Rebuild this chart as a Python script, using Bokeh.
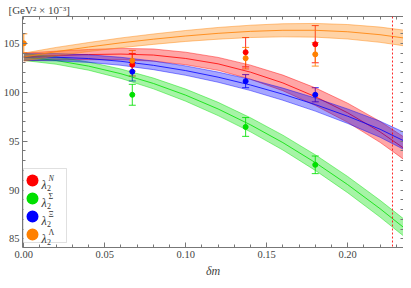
from bokeh.plotting import figure
from bokeh.models import (Range1d, LinearAxis, Whisker, TeeHead, ColumnDataSource, Span,
                          Label, BoxAnnotation, FixedTicker, NumeralTickFormatter)
from bokeh.embed import file_html
from bokeh.resources import INLINE

# ---------------- data ----------------
dm_grid = [0.0, 0.02, 0.04, 0.06, 0.08, 0.10, 0.12, 0.14, 0.16, 0.18, 0.20, 0.22, 0.2345]

red_fit = [103.6, 103.75, 103.85, 103.9, 103.8, 103.45, 102.9, 102.05, 100.95, 99.55, 97.9, 95.95, 94.3]
red_hw = [0.4, 0.45, 0.52, 0.58, 0.62, 0.64, 0.66, 0.72, 0.8, 0.9, 0.98, 1.07, 1.15]

blue_fit = [103.6, 103.58, 103.44, 103.16, 102.75, 102.21, 101.54, 100.74, 99.8, 98.74, 97.55, 96.22, 95.05]
blue_hw = [0.35, 0.37, 0.39, 0.41, 0.44, 0.48, 0.52, 0.57, 0.62, 0.67, 0.74, 0.82, 0.88]

green_fit = [103.6, 103.24, 102.67, 101.89, 100.9, 99.7, 98.29, 96.67, 94.85, 92.81, 90.56, 88.1, 86.19]
green_hw = [0.35, 0.38, 0.42, 0.48, 0.55, 0.62, 0.68, 0.72, 0.76, 0.8, 0.83, 0.86, 0.88]

orange_fit = [103.6, 104.15, 104.62, 105.05, 105.42, 105.75, 106.02, 106.22, 106.33, 106.33, 106.18, 105.88, 105.55]
orange_hw = [0.4, 0.43, 0.46, 0.5, 0.53, 0.56, 0.6, 0.63, 0.67, 0.7, 0.74, 0.78, 0.8]

dm_pts = [0.067, 0.137, 0.180]
red_val = [102.81, 104.09, 104.91]
red_err = [1.15, 1.5, 1.9]
blue_val = [102.1, 101.13, 99.74]
blue_err = [0.95, 0.67, 0.72]
green_val = [99.74, 96.45, 92.58]
green_err = [1.07, 0.96, 0.9]
orange_dm = [0.0, 0.067, 0.137, 0.180]
orange_val = [105.0, 103.22, 103.48, 103.87]
orange_err = [0.97, 1.05, 1.1, 1.2]

dm_phys = 0.2277

x_ticks = [0.0, 0.05, 0.10, 0.15, 0.20]
y_ticks = [85, 90, 95, 100, 105]

series = [
    ("N", "#ff0000", red_fit, red_hw, dm_pts, red_val, red_err),
    ("Σ", "#00e000", green_fit, green_hw, dm_pts, green_val, green_err),
    ("Ξ", "#0000ff", blue_fit, blue_hw, dm_pts, blue_val, blue_err),
    ("Λ", "#ff8000", orange_fit, orange_hw, orange_dm, orange_val, orange_err),
]

FONT = "Liberation Serif"
AX = "#777777"
LAB = "#444444"

p = figure(width=403, height=280, output_backend="svg", toolbar_location=None,
           x_range=Range1d(-0.0008, 0.2345), y_range=Range1d(84.13, 107.74),
           min_border_left=0, min_border_right=0, min_border_top=0, min_border_bottom=0)
p.grid.visible = False
p.outline_line_color = None
p.background_fill_color = "white"

p.title.text = "[GeV² × 10⁻³]"
p.title.text_font = FONT
p.title.text_font_style = "normal"
p.title.text_font_size = "11px"
p.title.text_color = LAB
p.title.align = "left"
p.title.offset = -14
p.title.standoff = 2

x_minor = [i / 100 for i in range(0, 24)]
y_minor = list(range(84, 108))


def style_axis(ax, ticks, minor, labels=True):
    ax.ticker = FixedTicker(ticks=ticks, minor_ticks=minor)
    ax.axis_line_color = AX
    ax.major_tick_line_color = AX
    ax.minor_tick_line_color = AX
    ax.major_tick_in = 5
    ax.major_tick_out = 0
    ax.minor_tick_in = 3
    ax.minor_tick_out = 0
    if labels:
        ax.major_label_text_font = FONT
        ax.major_label_text_font_size = "10.5px"
        ax.major_label_text_color = LAB
        ax.major_label_standoff = 3
    else:
        ax.major_label_text_font_size = "0px"
        ax.major_label_standoff = 0
        ax.axis_label_standoff = 0


style_axis(p.xaxis[0], x_ticks, x_minor)
style_axis(p.yaxis[0], y_ticks, y_minor)
p.xaxis[0].formatter = NumeralTickFormatter(format="0.00")
p.xaxis[0].axis_label = "δm"
p.xaxis[0].axis_label_text_font = FONT
p.xaxis[0].axis_label_text_font_style = "italic"
p.xaxis[0].axis_label_text_font_size = "12px"
p.xaxis[0].axis_label_text_color = LAB
p.xaxis[0].axis_label_standoff = 3

# frame axes on top and right: tick marks only, no labels
top_ax = LinearAxis()
right_ax = LinearAxis()
style_axis(top_ax, [], x_minor, labels=False)
style_axis(right_ax, [], y_minor, labels=False)
p.add_layout(top_ax, "above")
p.add_layout(right_ax, "right")

# bands
for name, col, fit, hw, *_ in series:
    up = [f + h for f, h in zip(fit, hw)]
    lo = [f - h for f, h in zip(fit, hw)]
    p.varea(x=dm_grid, y1=lo, y2=up, fill_color=col, fill_alpha=0.35)
    p.line(dm_grid, up, line_color=col, line_alpha=0.55, line_width=0.8)
    p.line(dm_grid, lo, line_color=col, line_alpha=0.55, line_width=0.8)
    p.line(dm_grid, fit, line_color=col, line_alpha=0.8, line_width=1)

p.add_layout(Span(location=dm_phys, dimension="height", line_color="#ff0000",
                  line_dash="2 2", line_width=1, line_alpha=0.85))

# error bars and points
for name, col, fit, hw, xs, vals, errs in series:
    src = ColumnDataSource(dict(x=xs, y=vals,
                                upper=[v + e for v, e in zip(vals, errs)],
                                lower=[v - e for v, e in zip(vals, errs)]))
    p.add_layout(Whisker(source=src, base="x", upper="upper", lower="lower",
                         line_color=col, line_width=1, line_alpha=0.85,
                         upper_head=TeeHead(size=7, line_color=col, line_width=1, line_alpha=0.85),
                         lower_head=TeeHead(size=7, line_color=col, line_width=1, line_alpha=0.85)))
    p.scatter("x", "y", source=src, size=5, fill_color=col, line_color=col)

# legend (screen units relative to the frame)
p.add_layout(BoxAnnotation(left=1, right=44, bottom=5, top=79,
                           left_units="screen", right_units="screen",
                           bottom_units="screen", top_units="screen",
                           fill_color="white", fill_alpha=1, line_color="#999999", line_width=1))
row_y = [67, 49, 31, 13]
for (name, col, *_), yy in zip(series, row_y):
    p.add_layout(BoxAnnotation(left=4, right=16, bottom=yy - 6, top=yy + 6,
                               left_units="screen", right_units="screen",
                               bottom_units="screen", top_units="screen",
                               border_radius=6, fill_color=col, fill_alpha=1, line_color=None))
    p.add_layout(Label(x=19, y=yy - 4, x_units="screen", y_units="screen", text="λ",
                       text_font=FONT, text_font_style="italic", text_font_size="12px",
                       text_color="#333333", text_baseline="alphabetic"))
    p.add_layout(Label(x=24.5, y=yy - 7, x_units="screen", y_units="screen", text="2",
                       text_font=FONT, text_font_size="8px",
                       text_color="#333333", text_baseline="alphabetic"))
    p.add_layout(Label(x=26, y=yy + 2.5, x_units="screen", y_units="screen", text=name,
                       text_font=FONT, text_font_style="italic" if name == "N" else "normal",
                       text_font_size="8px", text_color="#333333", text_baseline="alphabetic"))

open("out.html", "w").write(file_html(p, INLINE))
